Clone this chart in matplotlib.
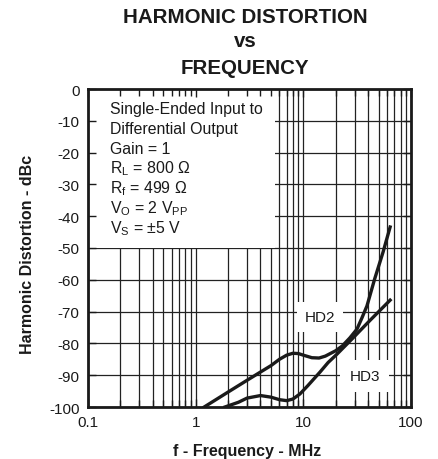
import matplotlib
matplotlib.use("Agg")
import matplotlib.pyplot as plt
from matplotlib.patches import Rectangle
import numpy as np

plt.rcParams['font.family'] = ['Liberation Sans', 'DejaVu Sans']
plt.rcParams['mathtext.fontset'] = 'custom'
plt.rcParams['mathtext.rm'] = 'Liberation Sans'
plt.rcParams['axes.unicode_minus'] = False

# HD2 (steep rise at high frequency)
hd2_freq = [1.2, 2.0, 3.0, 4.0, 5.0, 6.0, 7.0, 8.0, 9.0, 10.0, 12.0, 14.0, 16.0,
            20.0, 23.0, 27.0, 31.5, 35.0, 39.0, 46.0, 55.0, 64.0]
hd2_db = [-100, -95.3, -91.6, -89.0, -87.0, -85.0, -83.7, -83.1, -83.2, -83.7,
          -84.5, -84.6, -84.0, -82.3, -80.8, -78.3, -75.5, -72.0, -68.2, -59.7,
          -51.3, -43.4]

# HD3
hd3_freq = [1.87, 2.5, 3.0, 4.0, 5.0, 6.0, 7.0, 8.0, 9.3, 11.0, 14.3, 17.0,
            20.5, 28.9, 41.5, 64.0]
hd3_db = [-100, -98.5, -97.2, -96.4, -96.9, -97.7, -98.0, -97.5, -95.9, -93.3,
          -89.0, -86.0, -83.4, -78.3, -72.8, -66.4]

x_ticks = [0.1, 1, 10, 100]
x_labels = ["0.1", "1", "10", "100"]
y_ticks = list(range(-100, 1, 10))

fig = plt.figure(figsize=(4.38, 4.60), dpi=100)
ax = fig.add_axes([88 / 438, 1 - 408 / 460, 323 / 438, 318 / 460])
ax.set_xscale("log")
ax.set_xlim(0.1, 100)
ax.set_ylim(-100, 0)

# grid drawn by hand so the note box can sit on top of it
minors = [m * 10.0 ** d for d in range(-1, 2) for m in range(2, 10)]
ax.vlines(minors + x_ticks, -100, 0, colors="#222222", lw=0.9, zorder=0.5)
ax.hlines(y_ticks, 0.1, 100, colors="#222222", lw=0.9, zorder=0.5)

ax.add_patch(Rectangle((0.1, -50), 5.5 - 0.1, 50, facecolor="white",
                       edgecolor="none", zorder=1))

ax.plot(hd2_freq, hd2_db, color="#1a1a1a", lw=2.4, zorder=3)
ax.plot(hd3_freq, hd3_db, color="#1a1a1a", lw=2.4, zorder=3)

ax.set_xticks(x_ticks)
ax.set_xticklabels(x_labels)
ax.set_yticks(y_ticks)
ax.set_yticklabels([str(v) for v in y_ticks])
ax.xaxis.set_minor_locator(matplotlib.ticker.FixedLocator(minors))
ax.xaxis.set_minor_formatter(matplotlib.ticker.NullFormatter())
ax.tick_params(which="both", direction="in", top=True, right=True,
               labelsize=11, colors="#1a1a1a", width=1.0, zorder=2)
ax.tick_params(which="major", length=6, pad=6)
ax.tick_params(which="minor", length=5)
for s in ax.spines.values():
    s.set_linewidth(2.0)
    s.set_color("#1a1a1a")
    s.set_zorder(4)

note = ["Single-Ended Input to",
        "Differential Output",
        "Gain = 1",
        r"$\mathregular{R_L}$ = 800 Ω",
        r"$\mathregular{R_f}$ = 499 Ω",
        r"$\mathregular{V_O}$ = 2 $\mathregular{V_{PP}}$",
        r"$\mathregular{V_S}$ = ±5 V"]
for i, line in enumerate(note):
    fig.text(110 / 438, 1 - (110 + i * 19.7) / 460, line, fontsize=11.4,
             va="center", ha="left", color="#1a1a1a")

ax.text(14.3, -71.7, "HD2", fontsize=11, ha="center", va="center", zorder=2,
        color="#1a1a1a",
        bbox=dict(boxstyle="square,pad=0.5", facecolor="white", edgecolor="none"))
ax.text(37.3, -90.3, "HD3", fontsize=11, ha="center", va="center", zorder=2,
        color="#1a1a1a",
        bbox=dict(boxstyle="square,pad=0.6", facecolor="white", edgecolor="none"))

for txt, y in [("HARMONIC DISTORTION", 23), ("vs", 47), ("FREQUENCY", 74)]:
    fig.text(245 / 438, 1 - y / 460, txt, fontsize=14.8, fontweight="bold",
             ha="center", va="baseline", color="#1a1a1a")

fig.text(247 / 438, 1 - 452 / 460, "f - Frequency - MHz", fontsize=11.5,
         fontweight="bold", ha="center", va="center", color="#1a1a1a")
fig.text(28 / 438, 1 - 254 / 460, "Harmonic Distortion - dBc", fontsize=11.5,
         fontweight="bold", ha="center", va="center", rotation=90,
         color="#1a1a1a")

fig.savefig("out.png", dpi=100)
